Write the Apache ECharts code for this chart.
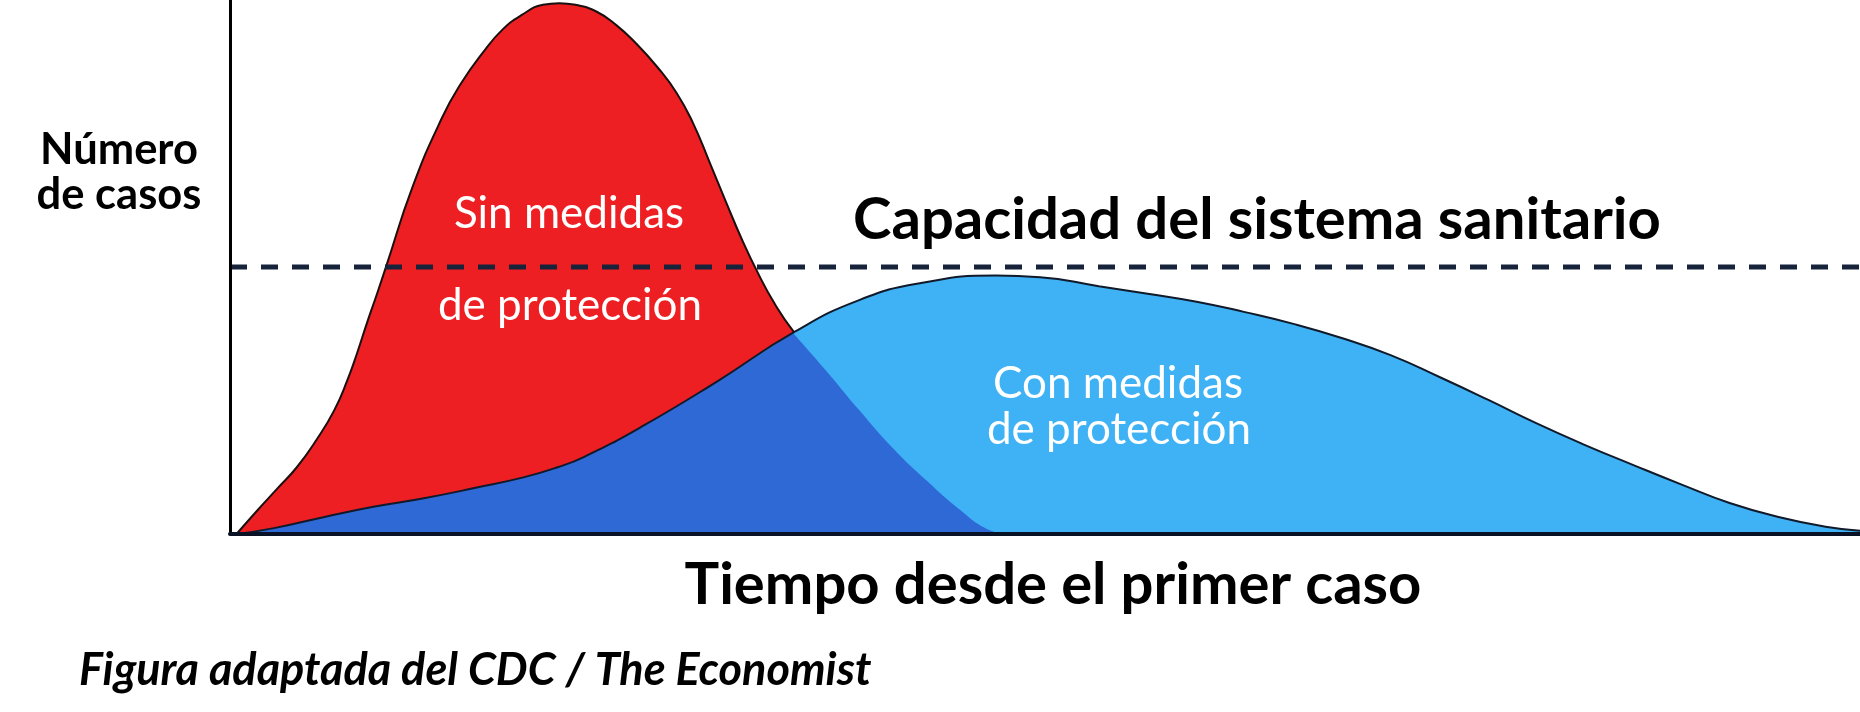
<!DOCTYPE html>
<html>
<head>
<meta charset="utf-8">
<script src="https://cdn.jsdelivr.net/npm/echarts@6/dist/echarts.min.js"></script>
<style>
html,body{margin:0;padding:0;background:#fff;}
#chart{width:1860px;height:712px;}
</style>
</head>
<body>
<div id="chart"></div>
<script>
// ---- data (time since first case, arbitrary units 0..100; cases, arbitrary units 0..100) ----
const redX = [0.4, 1.7, 2.9, 4.1, 5.3, 6.4, 7.2, 7.8, 8.4, 9.0, 9.6, 11.2, 13.0, 14.2, 15.5, 16.7, 17.9, 19.2, 20.2, 21.2, 22.5, 23.7, 24.9, 26.2, 27.4, 28.4, 29.4, 30.4, 31.4, 32.4, 33.4, 34.6, 36.6, 38.6, 40.6, 42.7, 44.8, 46.4, 47.6];
const redY = [0, 4.5, 8.5, 12.5, 17.6, 23.2, 28.8, 33.9, 39.5, 44.8, 50.3, 65.0, 77.9, 84.5, 90.1, 94.4, 97.2, 99.1, 99.4, 99.1, 97.8, 95.3, 91.9, 87.5, 82.6, 77.0, 69.8, 62.4, 55.2, 48.8, 43.2, 37.8, 30.5, 23.2, 16.3, 10.1, 4.5, 1.0, 0];
const blueX = [0.4, 2.7, 5.8, 8.8, 11.9, 15.0, 18.0, 20.1, 21.7, 25.2, 29.9, 34.6, 38.6, 42.4, 47.0, 49.7, 53.3, 56.3, 59.3, 62.2, 65.3, 68.2, 71.2, 74.2, 77.2, 80.1, 83.1, 86.1, 89.1, 92.0, 95.0, 98.0, 100];
const blueY = [0, 1.1, 3.2, 5.1, 6.7, 8.6, 10.6, 12.5, 14.4, 20.0, 28.6, 37.8, 43.8, 47.0, 48.4, 48.1, 46.4, 45.0, 43.5, 41.6, 39.3, 36.7, 33.5, 29.4, 25.1, 20.8, 16.7, 12.9, 9.2, 5.8, 3.2, 1.3, 0.6];
// dark-blue region under both curves (left: under the blue curve, right: under the red curve)
const overlapLeftX = [0.4, 2.7, 5.8, 8.8, 11.9, 15.0, 18.0, 20.1, 21.7, 25.2, 29.9, 34.6];
const overlapLeftY = [0, 1.1, 3.2, 5.1, 6.7, 8.6, 10.6, 12.5, 14.4, 20.0, 28.6, 37.8];
const overlapRightX = [34.5, 36.6, 38.6, 40.6, 42.7, 44.8, 46.4, 47.6];
const overlapRightY = [37.8, 30.5, 23.2, 16.3, 10.1, 4.5, 1.0, 0];
const capacity = 50;
const axisRange = [0, 100];

const yTitle = ['Número', 'de casos'];
const xTitle = 'Tiempo desde el primer caso';
const capacityLabel = 'Capacidad del sistema sanitario';
const redLabel = ['Sin medidas', 'de protección'];
const blueLabel = ['Con medidas', 'de protección'];
const source = 'Figura adaptada del CDC / The Economist';

const zip = (xs, ys) => xs.map((x, i) => [x, ys[i]]);

const FONT = 'Lato, "Open Sans", sans-serif';
function txt(text, x, y, size, opts) {
  opts = opts || {};
  return {
    type: 'text', x: x, y: y, z: 100,
    style: {
      text: text,
      fill: opts.fill || '#000',
      fontSize: size,
      fontWeight: opts.weight || 'bold',
      fontStyle: opts.style || 'normal',
      fontFamily: FONT,
      align: opts.align || 'center', textAlign: opts.align || 'center',
      verticalAlign: 'middle', textVerticalAlign: 'middle'
    }
  };
}

const SMOOTH = 0.5;
const DARK = '#2f69d6';
const chart = echarts.init(document.getElementById('chart'), null, {renderer: 'canvas'});
chart.setOption({
  animation: false,
  backgroundColor: '#fff',
  grid: {left: 230, right: 0, top: 0, bottom: 178},
  xAxis: {
    type: 'value', min: axisRange[0], max: axisRange[1], z: 20,
    axisLine: {show: true, onZero: false, lineStyle: {color: '#0a1226', width: 4}},
    axisTick: {show: false}, axisLabel: {show: false}, splitLine: {show: false}
  },
  yAxis: {
    type: 'value', min: axisRange[0], max: axisRange[1], z: 20,
    axisLine: {show: true, lineStyle: {color: '#000', width: 3}},
    axisTick: {show: false}, axisLabel: {show: false}, splitLine: {show: false}
  },
  series: [
    {
      name: 'Sin medidas', type: 'line', data: zip(redX, redY), z: 2,
      smooth: SMOOTH, symbol: 'none',
      lineStyle: {color: '#1a1010', width: 2},
      areaStyle: {color: '#ee1f22', opacity: 1}
    },
    {
      name: 'Con medidas (area)', type: 'line', data: zip(blueX, blueY), z: 3,
      smooth: SMOOTH, symbol: 'none',
      lineStyle: {width: 0, opacity: 0},
      areaStyle: {color: '#3fb2f5', opacity: 1}
    },
    {
      name: 'Solapamiento A', type: 'line', data: zip(overlapLeftX, overlapLeftY), z: 4,
      smooth: SMOOTH, symbol: 'none',
      lineStyle: {width: 0, opacity: 0},
      areaStyle: {color: DARK, opacity: 1}
    },
    {
      name: 'Solapamiento B', type: 'line', data: zip(overlapRightX, overlapRightY), z: 4,
      smooth: SMOOTH, symbol: 'none',
      lineStyle: {width: 0, opacity: 0},
      areaStyle: {color: DARK, opacity: 1}
    },
    {
      name: 'Con medidas', type: 'line', data: zip(blueX, blueY), z: 5,
      smooth: SMOOTH, symbol: 'none',
      lineStyle: {color: '#111a2a', width: 2}
    },
    {
      name: 'Capacidad', type: 'line', data: [[axisRange[0], capacity], [axisRange[1], capacity]], z: 6,
      symbol: 'none',
      lineStyle: {color: '#17233a', width: 5, type: [17, 14]}
    }
  ],
  graphic: [
    txt(yTitle[0], 119, 150, 43.5),
    txt(yTitle[1], 119, 195, 43.5),
    txt(redLabel[0], 569, 214, 44, {fill: '#fff', weight: 'normal'}),
    txt(redLabel[1], 570, 306, 44, {fill: '#fff', weight: 'normal'}),
    txt(blueLabel[0], 1118, 384, 44, {fill: '#fff', weight: 'normal'}),
    txt(blueLabel[1], 1119, 430, 44, {fill: '#fff', weight: 'normal'}),
    txt(capacityLabel, 1257, 220, 58),
    txt(xTitle, 1053, 585, 58),
    txt(source, 79, 670, 45, {align: 'left', style: 'italic'})
  ]
});
</script>
</body>
</html>
